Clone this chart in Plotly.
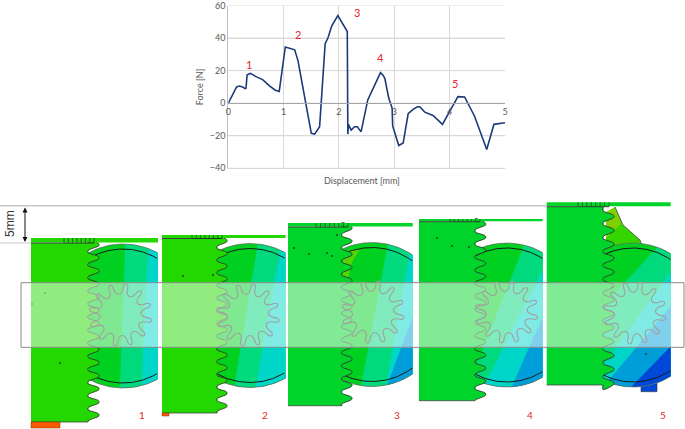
import math

import plotly.graph_objects as go

W, H = 685, 429

# force-displacement curve
displacement = [0, 0.08, 0.15, 0.2, 0.27, 0.3, 0.32, 0.34, 0.38, 0.4, 0.5, 0.62, 0.75, 0.85, 0.92,
                1.03, 1.2, 1.26, 1.33, 1.42, 1.5, 1.56, 1.65, 1.75, 1.8, 1.87, 1.98, 2.15, 2.16,
                2.17, 2.22, 2.28, 2.33, 2.4, 2.52, 2.65, 2.75, 2.8, 2.83, 2.9, 2.96, 2.97, 3.02,
                3.08, 3.16, 3.25, 3.35, 3.42, 3.46, 3.55, 3.7, 3.87, 4.0, 4.15, 4.27, 4.45, 4.67,
                4.8, 5]
force = [0, 5, 10, 10.5, 9.8, 9, 9.2, 17.5, 18, 18.3, 16.3, 14.5, 10.5, 8, 7.2,
         34.5, 32.8, 26, 13, -5, -18.5, -19, -14.5, 36.5, 40, 47.5, 53.8, 44, -19,
         -13, -16.5, -14.5, -14.5, -17.5, 2, 12, 18.7, 17, 15, 3, -3, -14, -19,
         -26, -24.5, -6.5, -3.5, -2.2, -2.2, -5.5, -7.5, -13, -5, 4, 3.8, -8, -28.5,
         -13, -12]
force_ticks = [-40, -20, 0, 20, 40, 60]

GREEN_A = "#22d800"
GREEN_B = "#00d42a"
TEAL = "#00d97c"
CYAN = "#00d6c8"
BLUE = "#009ed8"
DARK_BLUE = "#0048d8"
ORANGE = "#fa5a00"
RED = "#e8242c"
GREY = "#595959"
GRID = "#d9d9d9"

# label number, pixel position
chart_marks = [("1", 249, 64), ("2", 298, 34), ("3", 357, 12), ("4", 380, 57), ("5", 455, 83)]
panel_marks = [("1", 142, 415), ("2", 265, 415), ("3", 397, 415), ("4", 530, 415), ("5", 663, 415)]

# FE model panels, pixel space
panels = [
    dict(left=31, top=243, bottom=422, base=88, tip=99, plate=238, right=158, cx=123, cy=316,
         first=245, pitch=13.1, n=14, rack=GREEN_A, px=120.5, py=315, hatch=(64, 94),
         bands=[((125, 250), (120, 382), TEAL), ((148, 250), (141.7, 382), CYAN)]),
    dict(left=162, top=238.5, bottom=413, base=217, tip=227, plate=235, right=285.5, cx=250, cy=315.5,
         first=241, pitch=12.7, n=14, rack=GREEN_A, px=248, py=315, hatch=(192, 222),
         bands=[((256.7, 250), (235, 382), TEAL), ((280, 250), (256.7, 382), CYAN),
                ((300, 310), (283, 385), BLUE)]),
    dict(left=288, top=227, bottom=405.7, base=341.7, tip=352, plate=223, right=412.7, cx=372, cy=314.5,
         first=228.3, pitch=13.1, n=14, rack=GREEN_B, px=373, py=312, hatch=(316, 348),
         bands=[((386.7, 250), (361.7, 382), TEAL), ((410, 250), (386.7, 382), CYAN),
                ((412.7, 316.7), (386.7, 386), BLUE)]),
    dict(left=419, top=221.7, bottom=400.7, base=475, tip=485.7, plate=219, right=542.7, cx=506.7, cy=315,
         first=224.3, pitch=13.1, n=14, rack=GREEN_B, px=506.7, py=312, hatch=(450, 480),
         bands=[((521.7, 250), (483, 348), TEAL), ((542.7, 270), (488, 378), CYAN),
                ((542.7, 316.7), (511.7, 387), BLUE)]),
    dict(left=546.7, top=206.7, bottom=385, base=603, tip=614, plate=202.3, right=670.7, cx=633, cy=315,
         first=216.7, pitch=13.9, n=13, rack=GREEN_B, px=635, py=313, hatch=(578, 609),
         bands=[((653, 252), (613, 295), TEAL), ((670, 273), (605, 363), CYAN),
                ((670, 307), (613, 375), BLUE), ((670, 347), (633, 385), DARK_BLUE)]),
]


def clip_side(pts, a, b):
    # keep the part of the polygon on the lower right of the line a-b
    def side(p):
        return (b[0] - a[0]) * (p[1] - a[1]) - (b[1] - a[1]) * (p[0] - a[0])

    out = []
    for i, p in enumerate(pts):
        q = pts[(i + 1) % len(pts)]
        sp, sq = side(p), side(q)
        if sp <= 0:
            out.append(p)
        if (sp < 0 < sq) or (sq < 0 < sp):
            t = sp / (sp - sq)
            out.append((p[0] + t * (q[0] - p[0]), p[1] + t * (q[1] - p[1])))
    return out


def circle(cx, cy, r, n=180):
    return [(cx + r * math.cos(2 * math.pi * i / n), cy + r * math.sin(2 * math.pi * i / n)) for i in range(n)]


def fill(fig, pts, color, line="rgba(0,0,0,0)", width=0, shape="linear"):
    xs = [p[0] for p in pts] + [pts[0][0]]
    ys = [p[1] for p in pts] + [pts[0][1]]
    fig.add_trace(go.Scatter(x=xs, y=ys, mode="lines", fill="toself", fillcolor=color,
                             line=dict(color=line, width=width, shape=shape), xaxis="x2", yaxis="y2",
                             hoverinfo="skip", showlegend=False))


def stroke(fig, xs, ys, color, width=1, shape="linear"):
    fig.add_trace(go.Scatter(x=xs, y=ys, mode="lines", line=dict(color=color, width=width, shape=shape),
                             xaxis="x2", yaxis="y2", hoverinfo="skip", showlegend=False))


def tooth_edge(p):
    # wavy right-hand edge of the rack, top to bottom
    pts = [(p["base"], p["top"])]
    half = p["pitch"] / 2
    for k in range(p["n"]):
        y = p["first"] + k * p["pitch"]
        pts += [(p["base"], y - half + 1), (p["tip"] - 0.5, y - 1.5), (p["tip"], y + 0.5), (p["base"], y + half - 1)]
    pts.append((p["base"], p["bottom"]))
    return pts


def arc(cx, cy, r, sign, x0, x1):
    xs, ys = [], []
    x = x0
    while x <= x1:
        xs.append(x)
        ys.append(cy + sign * math.sqrt(r ** 2 - (x - cx) ** 2))
        x += 1.5
    return xs, ys


def draw_panel(fig, p):
    cx, cy, right = p["cx"], p["cy"], p["right"]

    if p is panels[4]:
        # deformed wedge above the gear and foot below it
        fill(fig, [(641, 380), (657, 380), (657, 391.7), (641, 391.7)], DARK_BLUE, "#333333", 0.6)
        fill(fig, [(606, 222), (615, 207), (623, 225), (640, 240), (642, 246), (613, 262), (606, 262)], "#35d600")
        fill(fig, [(606, 212), (615, 207), (619, 217), (621, 224), (606, 238)], "#7ed000")
        stroke(fig, [615, 619, 623, 640, 642], [207, 217, 225, 240, 245], "#444444", 0.8)

    # ring gear cut off by a vertical edge on the right
    disc = clip_side(circle(cx, cy, 72), (right, H), (right, 0))
    fill(fig, disc, "#00d020")
    for a, b, color in p["bands"]:
        part = clip_side(disc, a, b)
        if len(part) > 2:
            fill(fig, part, color)
    if p is panels[2]:
        fill(fig, [(343, 252), (360, 249), (352, 262), (347, 282), (343, 282)], "#55d400")

    # inner and outer arcs of the ring gear
    for sign in (-1, 1):
        xs, ys = arc(cx, cy, 67, sign, p["base"], right)
        stroke(fig, xs, ys, "#1a1a1a", 1)
        xs, ys = arc(cx, cy, 72, sign, p["base"], right)
        stroke(fig, xs, ys, "#666666", 0.7)

    # rack body, teeth, top plate
    edge = tooth_edge(p)
    fill(fig, [(p["left"], p["top"]), (p["base"] + 0.5, p["top"]), (p["base"] + 0.5, p["bottom"]), (p["left"], p["bottom"])],
         p["rack"])
    fill(fig, edge, p["rack"], shape="spline")
    stroke(fig, [q[0] for q in edge], [q[1] for q in edge], "#333333", 0.9, "spline")
    stroke(fig, [p["left"], p["base"]], [p["bottom"], p["bottom"]], "#444444", 0.8)
    plate = [(p["left"], p["plate"]), (right, p["plate"]), (right, p["top"] - 0.5), (p["left"], p["top"] - 0.5)]
    fill(fig, plate, p["rack"])
    stroke(fig, [p["left"], p["hatch"][0]], [p["top"], p["top"]], "#333333", 0.9)
    h0, h1 = p["hatch"]
    xs, ys = [], []
    for k in range(8):
        x = h0 + k * (h1 - h0) / 7
        xs += [x, x, None]
        ys += [p["plate"], p["top"], None]
    stroke(fig, xs, ys, "#1f5a1f", 0.9)
    stroke(fig, [h0, h1], [p["top"], p["top"]], "#1f3a1f", 1)


def pinion(px, py, rot):
    xs, ys = [], []
    steps = [(0.0, 20.5), (0.28, 23), (0.38, 30), (0.5, 31.5), (0.62, 30), (0.72, 23)]
    for k in range(12):
        for frac, r in steps:
            a = rot + (k + frac) * 2 * math.pi / 12
            xs.append(px + r * math.cos(a))
            ys.append(py + r * math.sin(a))
    return xs + xs[:1], ys + ys[:1]


fig = go.Figure()

for p in panels:
    draw_panel(fig, p)

# orange support feet
fill(fig, [(31, 422), (60, 422), (60, 428), (31, 428)], ORANGE, "#7a3a00", 0.5)
fill(fig, [(162, 413), (169, 413), (169, 416), (162, 416)], ORANGE, "#7a3a00", 0.5)

# loose element marks
dot_x = [45, 32, 60, 183, 213, 294, 309, 327, 332, 337, 437, 452, 469, 646, 612]
dot_y = [293, 304, 363, 276, 275, 248, 254, 253, 256, 235, 238, 246, 247, 354, 287]
fig.add_trace(go.Scatter(x=dot_x, y=dot_y, mode="markers", marker=dict(size=1.8, color="#1c3a1c"),
                         xaxis="x2", yaxis="y2", hoverinfo="skip", showlegend=False))

# translucent highlight band
fill(fig, [(21, 282.7), (684, 282.7), (684, 347.3), (21, 347.3)], "rgba(255,255,255,0.5)", "#8a8a8a", 1)

for p in panels:
    xs, ys = pinion(p["px"], p["py"], -1.65)
    stroke(fig, xs, ys, "#a0a0a0", 1.1, "spline")

# 5mm dimension lines
stroke(fig, [0, 547], [205.7, 205.7], "#c8c8c8", 1.4)
stroke(fig, [0, 31], [243, 243], "#c8c8c8", 1)

# horizontal grid of the force chart
for v in force_ticks:
    fig.add_shape(type="line", xref="x", yref="y", x0=0, x1=5, y0=v, y1=v, layer="below",
                  line=dict(color=GRID, width=1))

# chart
fig.add_trace(go.Scatter(x=displacement, y=force, mode="lines",
                         line=dict(color="#1b3a7a", width=1.6), showlegend=False))
# third x axis only carries the labels sitting on the zero line
fig.add_trace(go.Scatter(x=[None], y=[None], xaxis="x3", yaxis="y", showlegend=False, hoverinfo="skip"))

fig.add_annotation(x=25, y=242, ax=25, ay=206, xref="x2", yref="y2", axref="x2", ayref="y2", text="",
                   showarrow=True, arrowhead=2, arrowside="end+start", arrowwidth=1, arrowcolor="#111111")
fig.add_annotation(x=10, y=224, xref="x2", yref="y2", text="5mm", showarrow=False, textangle=-90,
                   font=dict(size=12, color="#333333", family="Liberation Sans"))
fig.add_annotation(x=362, y=180, xref="x2", yref="y2", text="Displacement [mm]", showarrow=False,
                   font=dict(size=9, color=GREY, family="Lato"))
for text, x, y in chart_marks:
    fig.add_annotation(x=x, y=y, xref="x2", yref="y2", text=text, showarrow=False,
                       font=dict(size=11, color=RED, family="Lato"))
for text, x, y in panel_marks:
    fig.add_annotation(x=x, y=y, xref="x2", yref="y2", text=text, showarrow=False,
                       font=dict(size=10, color=RED, family="Lato"))

x_domain = [228.3 / W, 505 / W]
fig.update_layout(
    width=W, height=H, margin=dict(l=0, r=0, t=0, b=0, autoexpand=False),
    plot_bgcolor="rgba(0,0,0,0)", paper_bgcolor="white", showlegend=False,
    font=dict(family="Lato", size=9, color=GREY),
    xaxis=dict(domain=x_domain, range=[0, 5], dtick=1, showticklabels=False, anchor="y",
               showgrid=True, gridcolor=GRID, showline=True, linecolor=GRID, zeroline=False,
               ticks=""),
    xaxis3=dict(domain=x_domain, range=[0, 5], dtick=1, anchor="free", position=1 - 102.8 / H, overlaying="x",
                showgrid=False, showline=True, linecolor="#a6a6a6", zeroline=False,
                ticks="", tickfont=dict(size=9, color=GREY)),
    yaxis=dict(domain=[1 - 168.3 / H, 1 - 5.5 / H], range=[-40, 60], tickvals=force_ticks, anchor="x",
               title=dict(text="Force [N]", standoff=4, font=dict(size=9, color=GREY)),
               showgrid=True, gridcolor=GRID, showline=True, linecolor="#bfbfbf", zeroline=False,
               ticks="", tickfont=dict(size=9, color=GREY), ticklabeloverflow="allow"),
    xaxis2=dict(domain=[0, 1], range=[0, W], visible=False, fixedrange=True, anchor="y2"),
    yaxis2=dict(domain=[0, 1], range=[H, 0], visible=False, fixedrange=True, anchor="x2"),
)

fig.write_html("out.html", config={"displayModeBar": False},
               post_script="document.body.style.margin='0';")
